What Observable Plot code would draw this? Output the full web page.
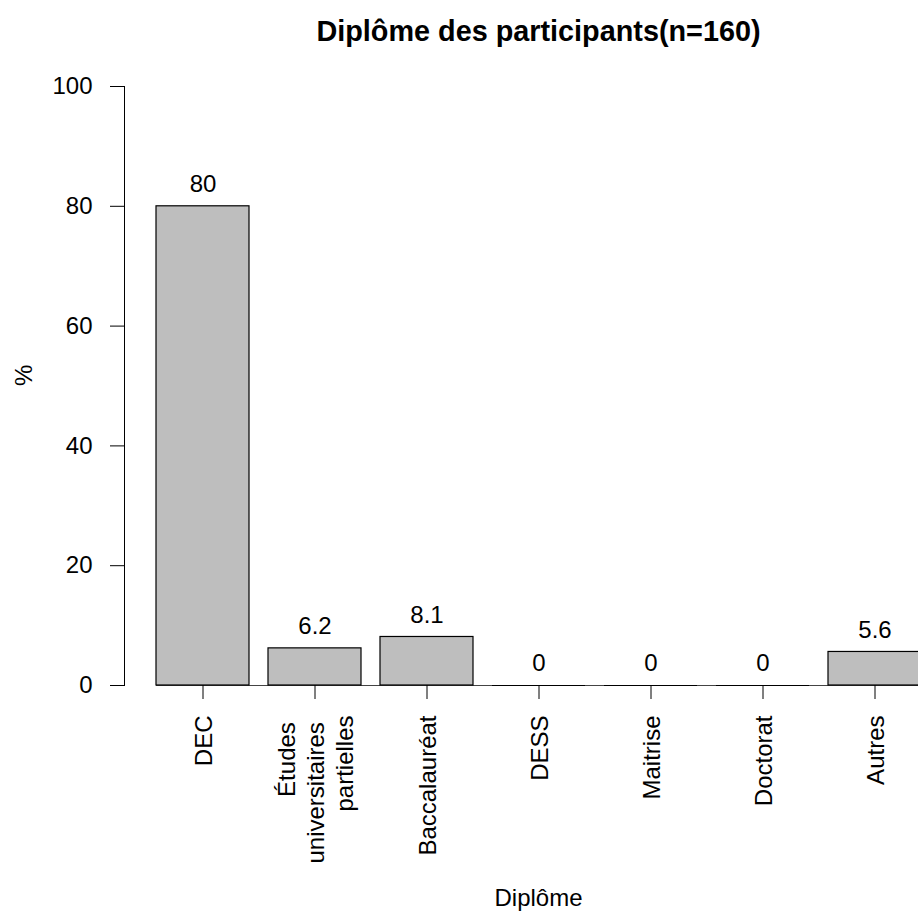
<!DOCTYPE html>
<html>
<head>
<meta charset="utf-8">
<script src="https://cdn.jsdelivr.net/npm/d3@7"></script>
<script src="https://cdn.jsdelivr.net/npm/@observablehq/plot@0.6"></script>
<style>
  html, body { margin: 0; padding: 0; background: white; overflow: hidden; }
</style>
</head>
<body>
<div id="chart"></div>
<script>
const categories = ["DEC", "Études \nuniversitaires \npartielles", "Baccalauréat", "DESS", "Maitrise", "Doctorat", "Autres"];
const values = [80, 6.2, 8.1, 0, 0, 0, 5.6];
const valueLabels = ["80", "6.2", "8.1", "0", "0", "0", "5.6"];
const yTicks = [0, 20, 40, 60, 80, 100];
const title = "Diplôme des participants(n=160)";
const xLabel = "Diplôme";
const yLabel = "%";

const data = categories.map((c, i) => ({cat: c, v: values[i], label: valueLabels[i]}));

const font = "'Liberation Sans', Arial, Helvetica, sans-serif";

const chart = Plot.plot({
  width: 918,
  height: 913,
  marginTop: 86,
  marginBottom: 228,
  marginLeft: 124,
  marginRight: 0,
  style: {fontFamily: font, fontSize: "24px", background: "white", color: "black", overflow: "hidden"},
  x: {type: "band", domain: categories, range: [154.15, 922.6], paddingInner: 1/6, paddingOuter: 0, align: 0.5},
  y: {domain: [0, 100]},
  marks: [
    // x axis line (between first and last bar)
    Plot.ruleY([0], {x1: () => categories[0], x2: () => categories[categories.length - 1], stroke: "#444", strokeWidth: 1}),
    Plot.barY(data, {x: "cat", y: "v", fill: "#bebebe", stroke: "black", strokeWidth: 1.2}),
    Plot.tickY(data.filter(d => d.v === 0), {x: "cat", y: "v", stroke: "black", strokeWidth: 1.2}),
    Plot.text(data, {x: "cat", y: "v", text: "label", dy: -22, lineAnchor: "middle", fontSize: 24, fill: "black"}),
    Plot.frame({anchor: "left", stroke: "black", strokeWidth: 1}),
    Plot.axisY({ticks: yTicks, tickSize: 14, tickPadding: 18, label: null, fontSize: 24, stroke: "black", tickFormat: d => String(d)}),
    Plot.axisX({tickSize: 14, tickFormat: () => "", label: null, stroke: "black"}),
    Plot.text(categories, {x: d => d, text: d => d, frameAnchor: "bottom", rotate: -90, textAnchor: "end", lineAnchor: "middle", dy: 30, fontSize: 24, lineHeight: 1.2, fill: "black"}),
    Plot.text([yLabel], {text: d => d, frameAnchor: "left", dx: -100, rotate: -90, lineAnchor: "middle", fontSize: 24, fill: "black"}),
    Plot.text([xLabel], {text: d => d, frameAnchor: "bottom", dx: 17, dy: 213, lineAnchor: "middle", fontSize: 24, fill: "black"}),
    Plot.text([title], {text: d => d, frameAnchor: "top", dx: 17, dy: -55, lineAnchor: "middle", fontSize: 28.8, fontWeight: "bold", fill: "black"})
  ]
});
document.getElementById("chart").appendChild(chart);
</script>
</body>
</html>
